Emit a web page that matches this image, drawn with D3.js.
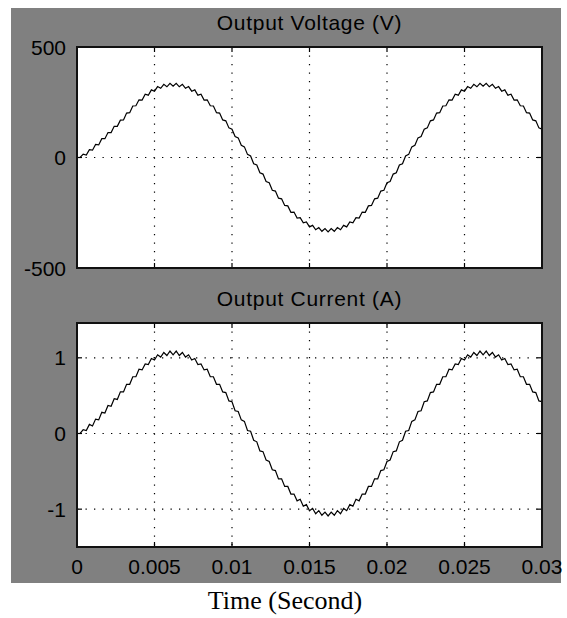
<!DOCTYPE html>
<html>
<head>
<meta charset="utf-8">
<script src="https://cdn.jsdelivr.net/npm/d3@7"></script>
<style>
  body { margin: 0; background: #fff; }
  svg text { font-family: Arial, "Liberation Sans", sans-serif; fill: #000; }
</style>
</head>
<body>
<svg id="chart" width="567" height="618"></svg>
<script>
// Sampled inverter output, one sample every 0.2 ms from t = 0 to t = 0.03 s
const sampleStep = 0.0002;

const voltage = [
  0, 0, 15, 11, 35, 33, 59, 57, 85, 85, 113, 113, 141, 141, 169, 170, 201, 203, 233, 234,
  261, 260, 286, 282, 306, 300, 321, 313, 331, 320, 336, 323, 336, 320, 331, 313, 321, 300, 306, 282,
  286, 260, 261, 234, 233, 203, 201, 170, 166, 134, 128, 95, 89, 55, 48, 14, 7, -28, -34, -69,
  -75, -109, -114, -148, -152, -184, -187, -217, -219, -248, -247, -274, -272, -296, -292, -314, -307, -327, -317, -334,
  -322, -337, -322, -334, -317, -327, -307, -314, -292, -296, -272, -274, -247, -248, -219, -217, -187, -184, -152, -148,
  -114, -109, -75, -69, -34, -28, 7, 14, 48, 55, 89, 95, 128, 134, 166, 170, 201, 203, 233, 234,
  261, 260, 286, 282, 306, 300, 321, 313, 331, 320, 336, 323, 336, 320, 331, 313, 321, 300, 306, 282,
  286, 260, 261, 234, 233, 203, 201, 170, 166, 134, 128
];

const current = [
  0, 0, 0.05, 0.04, 0.12, 0.10, 0.19, 0.18, 0.28, 0.27, 0.37, 0.36, 0.46, 0.45, 0.55, 0.55, 0.65, 0.65, 0.75, 0.75,
  0.85, 0.84, 0.92, 0.91, 0.99, 0.97, 1.04, 1.01, 1.07, 1.03, 1.09, 1.04, 1.09, 1.03, 1.07, 1.01, 1.04, 0.97, 0.99, 0.91,
  0.92, 0.84, 0.85, 0.75, 0.75, 0.65, 0.65, 0.55, 0.54, 0.43, 0.42, 0.30, 0.29, 0.18, 0.16, 0.04, 0.03, -0.09, -0.11, -0.23,
  -0.24, -0.35, -0.37, -0.48, -0.49, -0.60, -0.60, -0.70, -0.70, -0.80, -0.80, -0.89, -0.87, -0.96, -0.94, -1.02, -0.99, -1.06, -1.02, -1.08,
  -1.04, -1.09, -1.04, -1.08, -1.02, -1.06, -0.99, -1.02, -0.94, -0.96, -0.87, -0.89, -0.80, -0.80, -0.70, -0.70, -0.60, -0.60, -0.49, -0.48,
  -0.37, -0.35, -0.24, -0.23, -0.11, -0.09, 0.03, 0.04, 0.16, 0.18, 0.29, 0.30, 0.42, 0.43, 0.54, 0.55, 0.65, 0.65, 0.75, 0.75,
  0.85, 0.84, 0.92, 0.91, 0.99, 0.97, 1.04, 1.01, 1.07, 1.03, 1.09, 1.04, 1.09, 1.03, 1.07, 1.01, 1.04, 0.97, 0.99, 0.91,
  0.92, 0.84, 0.85, 0.75, 0.75, 0.65, 0.65, 0.55, 0.54, 0.43, 0.42
];

const timeTicks = [0, 0.005, 0.01, 0.015, 0.02, 0.025, 0.03];
const timeTickLabels = ["0", "0.005", "0.01", "0.015", "0.02", "0.025", "0.03"];
const voltageTicks = [-500, 0, 500];
const voltageTickLabels = ["-500", "0", "500"];
const currentTicks = [-1, 0, 1];
const currentTickLabels = ["-1", "0", "1"];
const panelTitles = ["Output Voltage (V)", "Output Current (A)"];
const xAxisTitle = "Time (Second)";

const svg = d3.select("#chart");

// figure frame
svg.append("rect")
  .attr("x", 11).attr("y", 8)
  .attr("width", 550).attr("height", 575)
  .attr("fill", "#808080");

const plotLeft = 77, plotRight = 542;
const x = d3.scaleLinear().domain([0, 0.03]).range([plotLeft, plotRight]);

const panels = [
  { title: panelTitles[0], top: 47, bottom: 268, domain: [-500, 500],
    ticks: voltageTicks, labels: voltageTickLabels, values: voltage, showX: false },
  { title: panelTitles[1], top: 323, bottom: 547, domain: [-1.5, 1.46],
    ticks: currentTicks, labels: currentTickLabels, values: current, showX: true }
];

const tickLen = 5;

panels.forEach((p, i) => {
  const y = d3.scaleLinear().domain(p.domain).range([p.bottom, p.top]);
  const g = svg.append("g");

  g.append("rect")
    .attr("x", plotLeft).attr("y", p.top)
    .attr("width", plotRight - plotLeft).attr("height", p.bottom - p.top)
    .attr("fill", "#fff");

  // dotted grid
  const grid = g.append("g")
    .attr("stroke", "#000").attr("stroke-width", 1.2)
    .attr("stroke-dasharray", "1.3,7.2");
  grid.selectAll("line.v")
    .data(timeTicks.filter(t => x(t) > plotLeft + 1 && x(t) < plotRight - 1))
    .join("line")
    .attr("x1", d => x(d)).attr("x2", d => x(d))
    .attr("y1", p.top).attr("y2", p.bottom);
  grid.selectAll("line.h")
    .data(p.ticks.filter(v => y(v) > p.top + 1 && y(v) < p.bottom - 1))
    .join("line")
    .attr("x1", plotLeft).attr("x2", plotRight)
    .attr("y1", d => y(d)).attr("y2", d => y(d));

  // signal trace
  const clipId = "clip" + i;
  svg.append("clipPath").attr("id", clipId)
    .append("rect")
    .attr("x", plotLeft).attr("y", p.top)
    .attr("width", plotRight - plotLeft).attr("height", p.bottom - p.top);

  const line = d3.line()
    .x((d, k) => x(k * sampleStep))
    .y(d => y(d));
  g.append("path")
    .datum(p.values)
    .attr("clip-path", `url(#${clipId})`)
    .attr("fill", "none")
    .attr("stroke", "#000")
    .attr("stroke-width", 1.2)
    .attr("d", line);

  // inward ticks on all four sides
  const ticks = g.append("g").attr("stroke", "#000").attr("stroke-width", 1.2);
  timeTicks.forEach(t => {
    ticks.append("line").attr("x1", x(t)).attr("x2", x(t))
      .attr("y1", p.bottom).attr("y2", p.bottom - tickLen);
    ticks.append("line").attr("x1", x(t)).attr("x2", x(t))
      .attr("y1", p.top).attr("y2", p.top + tickLen);
  });
  p.ticks.forEach(v => {
    ticks.append("line").attr("x1", plotLeft).attr("x2", plotLeft + tickLen)
      .attr("y1", y(v)).attr("y2", y(v));
    ticks.append("line").attr("x1", plotRight).attr("x2", plotRight - tickLen)
      .attr("y1", y(v)).attr("y2", y(v));
  });

  // plot box
  g.append("rect")
    .attr("x", plotLeft).attr("y", p.top)
    .attr("width", plotRight - plotLeft).attr("height", p.bottom - p.top)
    .attr("fill", "none").attr("stroke", "#111").attr("stroke-width", 2);

  // y tick labels
  g.selectAll("text.ylab")
    .data(p.ticks)
    .join("text")
    .attr("x", plotLeft - 11)
    .attr("y", d => y(d))
    .attr("dy", "0.36em")
    .attr("text-anchor", "end")
    .attr("font-size", 21)
    .text((d, k) => p.labels[k]);

  // panel title
  g.append("text")
    .attr("x", (plotLeft + plotRight) / 2)
    .attr("y", p.top - 17)
    .attr("text-anchor", "middle")
    .attr("font-size", 21)
    .attr("letter-spacing", 0.7)
    .text(p.title);

  if (p.showX) {
    g.selectAll("text.xlab")
      .data(timeTicks)
      .join("text")
      .attr("x", d => x(d))
      .attr("y", p.bottom + 27)
      .attr("text-anchor", "middle")
      .attr("font-size", 21)
      .text((d, k) => timeTickLabels[k]);
  }
});

svg.append("text")
  .attr("x", 285)
  .attr("y", 609)
  .attr("text-anchor", "middle")
  .style("font-family", "'Liberation Serif', 'Times New Roman', serif")
  .attr("font-size", 26)
  .text(xAxisTitle);
</script>
</body>
</html>
